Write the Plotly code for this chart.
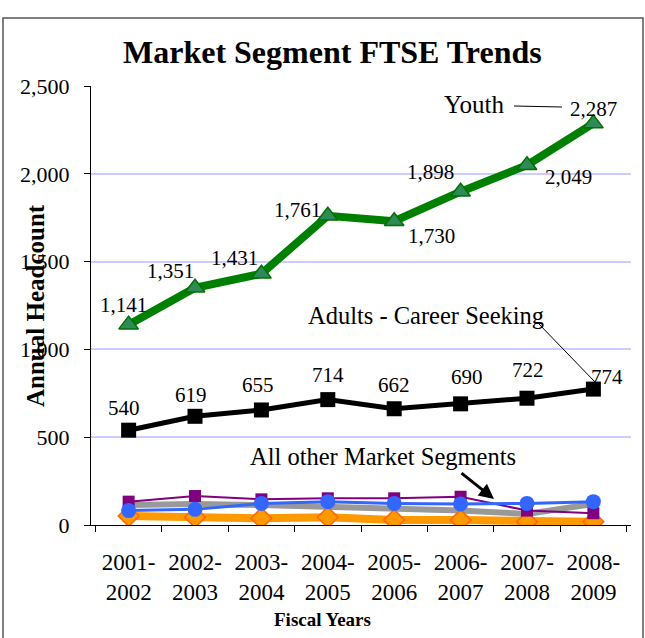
import plotly.graph_objects as go

years = ["2001-<br>2002", "2002-<br>2003", "2003-<br>2004", "2004-<br>2005",
         "2005-<br>2006", "2006-<br>2007", "2007-<br>2008", "2008-<br>2009"]
youth = [1141, 1351, 1431, 1761, 1730, 1898, 2049, 2287]
adults = [540, 619, 655, 714, 662, 690, 722, 774]
other_purple = [133, 165, 146, 152, 152, 161, 82, 67]
other_gray = [114, 120, 114, 104, 95, 82, 63, 120]
other_blue = [82, 89, 123, 133, 123, 120, 123, 133]
other_orange = [51, 44, 38, 44, 28, 28, 19, 19]
y_ticks = [0, 500, 1000, 1500, 2000, 2500]

# label offsets (pixels) - style only
youth_off = [(-5, 20), (-25, 17), (-27, 16), (-30, 6), (37, -15), (-30, 20), (42, -12), (0, 14)]
adult_off = [(-5, 22), (-4, 21), (-3, 25), (0, 25), (0, 24), (6, 27), (1, 28), (14, 12)]

SERIF = "Liberation Serif"
W, H = 645, 638
L, R, T, B = 91, 14, 86, 113
PW, PH = W - L - R, H - T - B


def px(x):
    return (x - L) / PW


def py(y):
    return (H - B - y) / PH


fig = go.Figure()
fig.add_trace(go.Scatter(x=years, y=other_gray, mode="lines",
                         line=dict(color="#999999", width=6)))
fig.add_trace(go.Scatter(x=years, y=other_orange, mode="lines+markers",
                         line=dict(color="#ff9900", width=8),
                         marker=dict(symbol="diamond", size=16, color="#ff9900",
                                     line=dict(color="#ff6600", width=1.5))))
fig.add_trace(go.Scatter(x=years, y=other_purple, mode="lines+markers",
                         line=dict(color="#800080", width=2),
                         marker=dict(symbol="square", size=12, color="#800080")))
fig.add_trace(go.Scatter(x=years, y=other_blue, mode="lines+markers",
                         line=dict(color="#3366ff", width=3),
                         marker=dict(symbol="circle", size=15, color="#3366ff")))
fig.add_trace(go.Scatter(x=years, y=adults, mode="lines+markers",
                         line=dict(color="black", width=5),
                         marker=dict(symbol="square", size=15, color="black")))
fig.add_trace(go.Scatter(x=years, y=youth, mode="lines+markers",
                         line=dict(color="#008000", width=8),
                         marker=dict(symbol="triangle-up", size=17, color="#2e8b57",
                                     line=dict(color="#007000", width=1.5))))

annotations = []
for i, (cat, v) in enumerate(zip(years, youth)):
    dx, dy = youth_off[i]
    annotations.append(dict(x=cat, y=v, text=f"{v:,}", showarrow=False,
                            xshift=dx, yshift=dy, xanchor="center", yanchor="middle",
                            font=dict(family=SERIF, size=21, color="black")))
for i, (cat, v) in enumerate(zip(years, adults)):
    dx, dy = adult_off[i]
    annotations.append(dict(x=cat, y=v, text=f"{v:,}", showarrow=False,
                            xshift=dx, yshift=dy, xanchor="center", yanchor="middle",
                            font=dict(family=SERIF, size=21, color="black")))


def label(x, y, text, size, angle=0):
    return dict(xref="paper", yref="paper", x=px(x), y=py(y), text=text,
                xanchor="center", yanchor="middle", textangle=angle,
                showarrow=False, font=dict(family=SERIF, size=size, color="black"))


annotations += [
    label(332, 52, "<b>Market Segment FTSE Trends</b>", 32),
    label(474, 105, "Youth", 25),
    label(426, 315, "Adults - Career Seeking", 24.5),
    label(383, 456, "All other Market Segments", 24.5),
    dict(xref="paper", yref="paper", x=px(494), y=py(499), ax=-34, ay=-27,
         axref="pixel", ayref="pixel", text="", showarrow=True, arrowhead=2,
         arrowsize=1, arrowwidth=3, arrowcolor="black"),
    label(322, 619, "<b>Fiscal Years</b>", 19),
    label(35, 306, "<b>Annual Headcount</b>", 25, -90),
]

shapes = [
    dict(type="line", xref="paper", yref="paper", x0=px(514), y0=py(106), x1=px(562), y1=py(107),
         line=dict(color="black", width=1)),
    dict(type="line", xref="paper", yref="paper", x0=px(537), y0=py(322), x1=px(595), y1=py(382),
         line=dict(color="black", width=1)),
    dict(type="rect", xref="paper", yref="paper", x0=px(3), y0=py(645), x1=px(643), y1=py(18),
         line=dict(color="#555555", width=1.5), layer="below"),
]

fig.update_layout(
    width=W, height=H,
    margin=dict(l=L, r=R, t=T, b=B, autoexpand=False),
    paper_bgcolor="white", plot_bgcolor="white",
    showlegend=False,
    annotations=annotations, shapes=shapes,
    font=dict(family=SERIF, color="black"),
)
fig.update_xaxes(type="category", showline=True, linecolor="black", linewidth=1,
                 ticks="outside", tickson="boundaries", ticklen=6, tickcolor="black",
                 showgrid=False, tickfont=dict(family=SERIF, size=23, color="black"),
                 ticklabelstandoff=16)
fig.update_yaxes(range=[0, 2500], tickvals=y_ticks, tickformat=",",
                 showline=True, linecolor="black", linewidth=1,
                 ticks="outside", ticklen=6, tickcolor="black",
                 showgrid=True, gridcolor="#ccccff", gridwidth=2, zeroline=False,
                 tickfont=dict(family=SERIF, size=22, color="black"),
                 ticklabelstandoff=10)

fig.write_html("out.html", config={"displayModeBar": False},
               post_script="document.body.style.margin='0';")
